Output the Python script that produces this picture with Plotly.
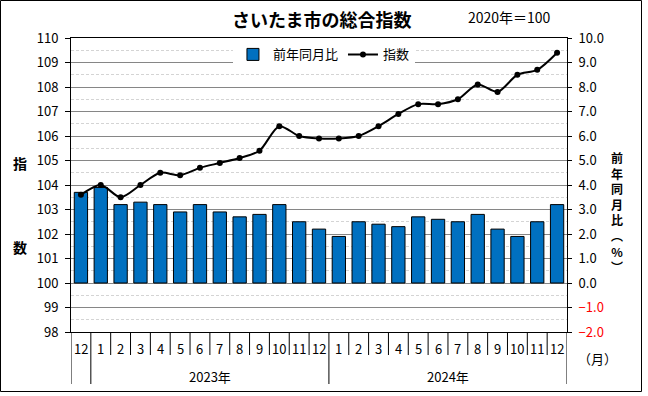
import plotly.graph_objects as go

# ---- data ----
categories = ["2022-12", "2023-01", "2023-02", "2023-03", "2023-04", "2023-05", "2023-06",
              "2023-07", "2023-08", "2023-09", "2023-10", "2023-11", "2023-12",
              "2024-01", "2024-02", "2024-03", "2024-04", "2024-05", "2024-06",
              "2024-07", "2024-08", "2024-09", "2024-10", "2024-11", "2024-12"]
month_labels = ["12", "1", "2", "3", "4", "5", "6", "7", "8", "9", "10", "11", "12",
                "1", "2", "3", "4", "5", "6", "7", "8", "9", "10", "11", "12"]
year_labels = ["2023年", "2024年"]
yoy_pct = [3.7, 3.9, 3.2, 3.3, 3.2, 2.9, 3.2, 2.9, 2.7, 2.8, 3.2, 2.5, 2.2,
           1.9, 2.5, 2.4, 2.3, 2.7, 2.6, 2.5, 2.8, 2.2, 1.9, 2.5, 3.2]
index_values = [103.6, 104.0, 103.5, 104.0, 104.5, 104.4, 104.7, 104.9, 105.1, 105.4,
                106.4, 106.0, 105.9, 105.9, 106.0, 106.4, 106.9, 107.3, 107.3, 107.5,
                108.1, 107.8, 108.5, 108.7, 109.4]
left_ticks = [98, 99, 100, 101, 102, 103, 104, 105, 106, 107, 108, 109, 110]
right_ticks = [-2, -1, 0, 1, 2, 3, 4, 5, 6, 7, 8, 9, 10]

FONT = "Noto Sans CJK JP"
W, H = 648, 396
L, R, T, B = 71, 567, 38, 332


def px(xp):
    return (xp - L) / (R - L)


def py(yp):
    return (B - yp) / (B - T)


fig = go.Figure()
fig.add_trace(go.Bar(
    x=categories, y=yoy_pct, name="前年同月比", yaxis="y",
    marker=dict(color="#0070C0", line=dict(color="black", width=1)),
))
fig.add_trace(go.Scatter(
    x=categories, y=index_values, name="指数", yaxis="y2", mode="lines+markers",
    line=dict(color="black", width=2, shape="spline", smoothing=0.8),
    marker=dict(color="black", size=6),
))

right_text = []
for v in right_ticks:
    s = f"{abs(v):.1f}"
    if v < 0:
        right_text.append(f"<span style='color:red'>−{s}</span>")
    else:
        right_text.append(s)

fig.update_layout(
    width=W, height=H,
    margin=dict(l=L, r=W - R, t=T, b=H - B, pad=0),
    paper_bgcolor="white", plot_bgcolor="white",
    font=dict(family=FONT, size=13, color="black"),
    bargap=0.33,
    showlegend=True,
    legend=dict(orientation="h", x=0.51, xanchor="center", y=0.995, yanchor="top",
                bgcolor="white", font=dict(size=13, family=FONT),
                itemwidth=30, tracegroupgap=0),
    xaxis=dict(type="category", range=[-0.5, len(categories) - 0.5],
               showticklabels=False, ticks="", showgrid=False,
               showline=True, linecolor="black", linewidth=1, mirror=True),
    yaxis=dict(side="right", range=[-2, 10], tickvals=right_ticks, ticktext=right_text,
               ticks="outside", ticklen=4, tickcolor="black", ticklabelstandoff=4,
               showline=True, linecolor="black", linewidth=1,
               showgrid=True, gridcolor="#868686", gridwidth=1, zeroline=False,
               minor=dict(dtick=0.5, showgrid=True, gridcolor="#d4d4d4",
                          griddash="3px,2px", ticks="")),
    yaxis2=dict(side="left", overlaying="y", range=[98, 110], tickvals=left_ticks,
                ticks="outside", ticklen=5, tickcolor="black", ticklabelstandoff=4,
                showline=True, linecolor="black", linewidth=1,
                showgrid=False, zeroline=False),
)

shapes = []
# outer frame
shapes.append(dict(type="rect", xref="paper", yref="paper",
                   x0=px(0.5), x1=px(641.5), y0=py(391.5), y1=py(0.5),
                   line=dict(color="black", width=1), fillcolor="rgba(0,0,0,0)"))
# month separators
for i in range(len(categories) + 1):
    pos = i - 0.5
    y_end = 384 if i in (0, 1, 13, len(categories)) else 355
    shapes.append(dict(type="line", xref="x", yref="paper", x0=pos, x1=pos,
                       y0=py(B), y1=py(y_end), line=dict(color="black", width=1)))
fig.update_layout(shapes=shapes)


def note(text, x, y, size=13, xref="paper"):
    return dict(x=x, xref=xref, y=py(y), yref="paper", text=text, showarrow=False,
                xanchor="center", yanchor="middle", align="center",
                font=dict(size=size, family=FONT, color="black"))


ann = []
for c, m in zip(categories, month_labels):
    ann.append(note(m, c, 348, xref="x"))
# year labels
ann.append(note(year_labels[0], 6.5, 376, xref="x"))
ann.append(note(year_labels[1], 18.5, 376, xref="x"))
ann.append(note("（月）", px(597), 358))
# title and base note
ann.append(note("<b>さいたま市の総合指数</b>", px(321), 19, size=18))
ann.append(note("2020年＝100", px(509), 17, size=14))
# left axis title
ann.append(note("<b>指</b>", px(20), 163, size=14))
ann.append(note("<b>数</b>", px(20), 247, size=14))
# right axis title (vertical, one stacked text)
ann.append(note("<b>前<br>年<br>同<br>月<br>比<br>︵<br>%<br>︶</b>", px(617), 212, size=12))
fig.update_layout(annotations=ann)

fig.write_html("out.html", config={"displayModeBar": False},
               post_script="document.body.style.margin='0';")
